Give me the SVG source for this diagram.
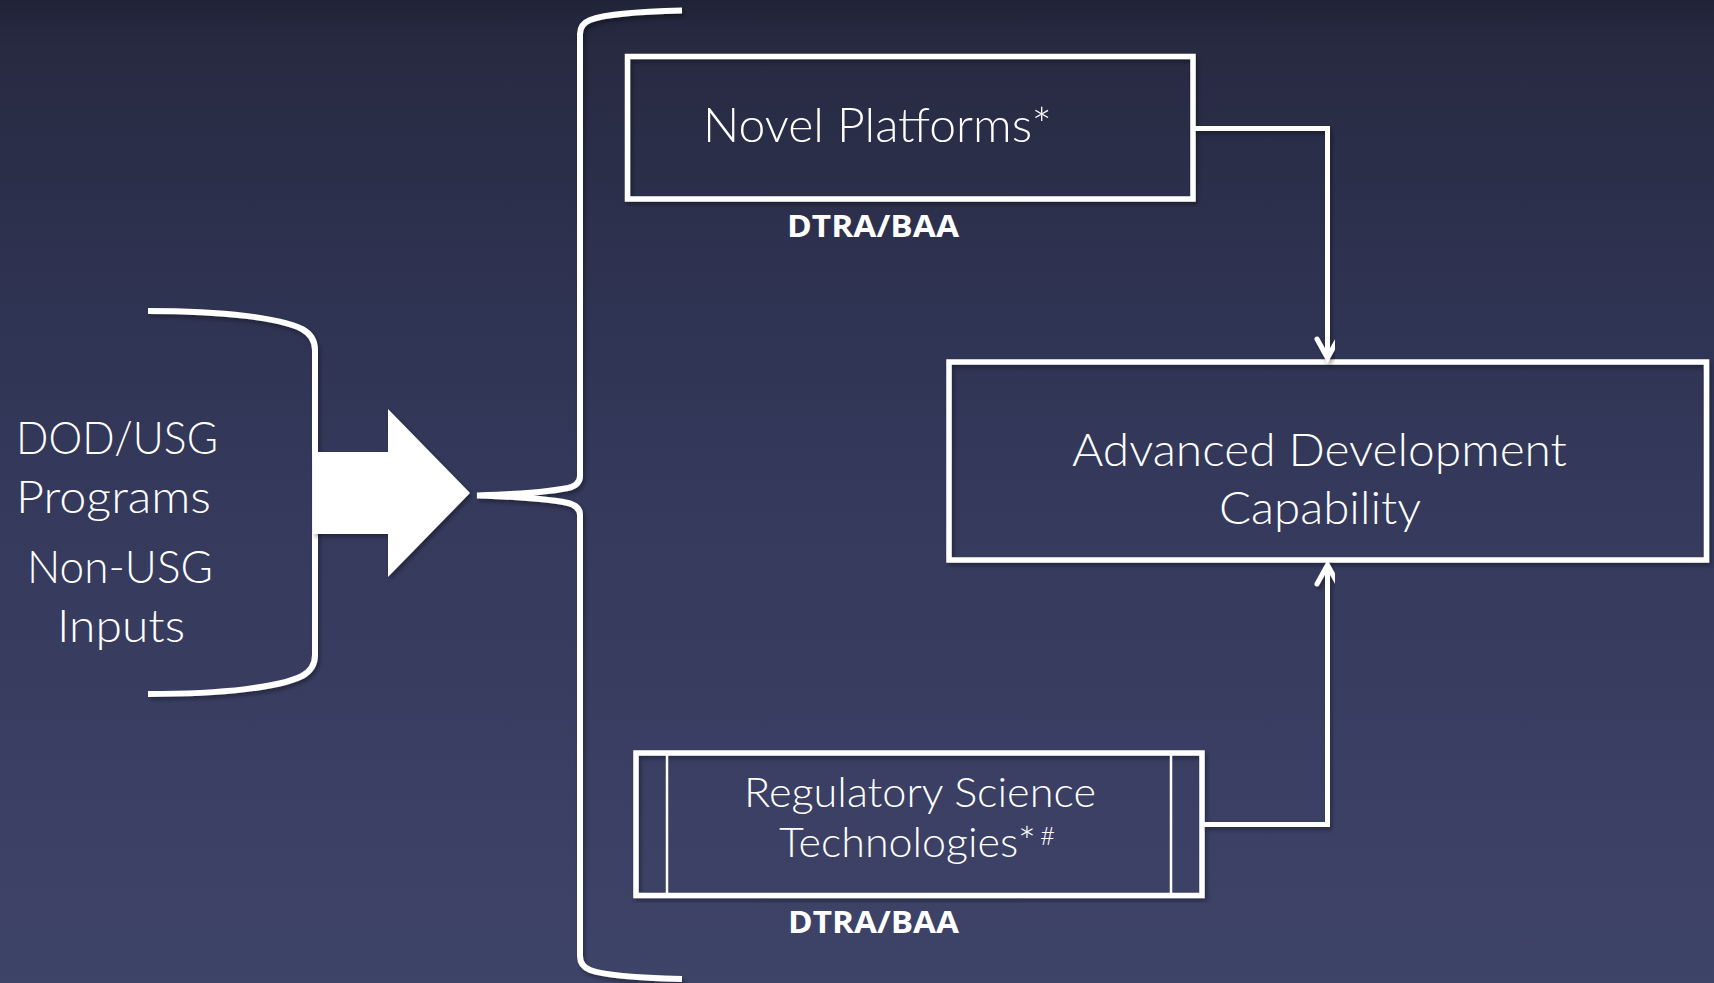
<svg xmlns="http://www.w3.org/2000/svg" width="1714" height="983" viewBox="0 0 1714 983">
  <defs>
    <linearGradient id="bg" x1="0" y1="0" x2="0" y2="1">
      <stop offset="0" stop-color="#202338"/>
      <stop offset="0.05" stop-color="#272a41"/>
      <stop offset="0.3" stop-color="#2f3352"/>
      <stop offset="0.55" stop-color="#363a5d"/>
      <stop offset="1" stop-color="#3e4368"/>
    </linearGradient>
    <filter id="shadow" x="-5%" y="-5%" width="110%" height="110%">
      <feDropShadow dx="2" dy="3" stdDeviation="2" flood-color="#000" flood-opacity="0.35"/>
    </filter>
    <marker id="chev" markerUnits="userSpaceOnUse" markerWidth="30" markerHeight="30" refX="0" refY="0" orient="auto" overflow="visible">
      <path d="M-19,-10.5 L0,0 L-19,10.5" fill="none" stroke="#ffffff" stroke-width="5" stroke-linecap="round" stroke-linejoin="miter"/>
    </marker>
    <style>
      .box { fill: none; stroke: #ffffff; stroke-width: 5.5; }
      .thin { fill: none; stroke: #ffffff; stroke-width: 2.5; }
      .line { fill: none; stroke: #ffffff; stroke-width: 5; }
      .brace { fill: none; stroke: #ffffff; stroke-width: 6; stroke-linecap: butt; }
      .lbl { font-family: Lato, "Open Sans", "Liberation Sans", sans-serif; font-weight: 300; fill: #ffffff; }
      .tag { font-family: "Open Sans", "Liberation Sans", sans-serif; font-weight: 700; font-size: 30px; fill: #ffffff; }
    </style>
  </defs>

  <rect x="0" y="0" width="1714" height="983" fill="url(#bg)"/>

  <g id="inputs">
    <path class="brace" filter="url(#shadow)" d="M148,311 C225,311 280,318 302,329 Q315,336 315,350 L315,655 Q315,669 302,676 C280,687 225,694 148,694"/>
    <text class="lbl" font-size="45" x="16" y="454" textLength="202" lengthAdjust="spacingAndGlyphs">DOD/USG</text>
    <text class="lbl" font-size="45" x="16" y="513" textLength="195" lengthAdjust="spacingAndGlyphs">Programs</text>
    <text class="lbl" font-size="45" x="27" y="583" textLength="186" lengthAdjust="spacingAndGlyphs">Non-USG</text>
    <text class="lbl" font-size="45" x="57" y="642" textLength="128" lengthAdjust="spacingAndGlyphs">Inputs</text>
  </g>

  <g id="big-arrow">
    <path d="M313,452 L388,452 L388,409 L470,493 L388,577 L388,534 L313,534 Z" fill="#ffffff" filter="url(#shadow)"/>
  </g>

  <g id="split-brace">
    <path class="brace" filter="url(#shadow)" d="M682,10.5 C640,11.5 603,15 590,20 Q580,24 580,34 L580,476 Q580,485 568,488 C548,492 510,494.5 477,495.5 C510,496.5 548,499 568,503 Q580,506 580,515 L580,956 Q580,966 590,970 C603,975 640,978 682,979"/>
  </g>

  <g id="novel-platforms">
    <rect class="box" x="627.5" y="56.5" width="565.5" height="142.5" filter="url(#shadow)"/>
    <text class="lbl" font-size="48" x="703" y="142" textLength="349" lengthAdjust="spacingAndGlyphs">Novel Platforms*</text>
    <text class="tag" x="787" y="237" textLength="172" lengthAdjust="spacingAndGlyphs">DTRA/BAA</text>
  </g>

  <g id="advanced-development">
    <rect class="box" x="949" y="362" width="757.5" height="198" filter="url(#shadow)"/>
    <text class="lbl" font-size="46" x="1072" y="466" textLength="495" lengthAdjust="spacingAndGlyphs">Advanced Development</text>
    <text class="lbl" font-size="46" x="1219" y="524" textLength="202" lengthAdjust="spacingAndGlyphs">Capability</text>
  </g>

  <g id="regulatory-science">
    <rect class="box" x="636" y="753" width="566" height="142.5" filter="url(#shadow)"/>
    <line class="thin" x1="667" y1="753" x2="667" y2="895.5"/>
    <line class="thin" x1="1171" y1="753" x2="1171" y2="895.5"/>
    <text class="lbl" font-size="42" x="744" y="807" textLength="352" lengthAdjust="spacingAndGlyphs">Regulatory Science</text>
    <text class="lbl" font-size="42"><tspan x="779" y="857" textLength="257" lengthAdjust="spacingAndGlyphs">Technologies*</tspan><tspan x="1040" y="845" font-size="26">#</tspan></text>
    <text class="tag" x="788" y="933" textLength="171" lengthAdjust="spacingAndGlyphs">DTRA/BAA</text>
  </g>

  <g id="connectors" filter="url(#shadow)">
    <path class="line" d="M1195,128.5 L1327.5,128.5 L1327.5,358" marker-end="url(#chev)"/>
    <path class="line" d="M1204,824.5 L1327.5,824.5 L1327.5,565" marker-end="url(#chev)"/>
  </g>
</svg>
